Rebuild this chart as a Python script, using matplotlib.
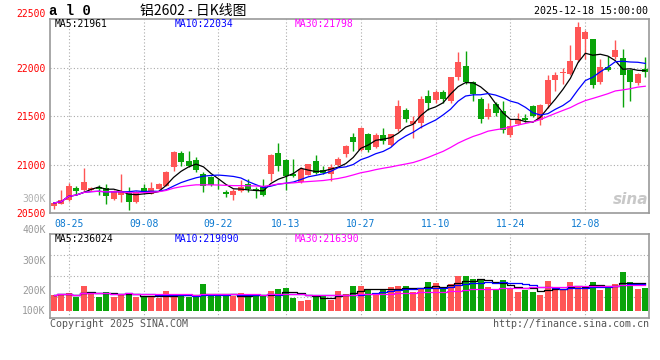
import numpy as np
import pandas as pd
import matplotlib.pyplot as plt

# daily bars of 铝2602, 2025-08-21 .. 2025-12-18
open_ = [20572, 20600, 20633, 20763, 20735, 20735, 20770, 20763, 20650, 20684,
         20712, 20617, 20763, 20701, 20752, 20786, 20980, 21120, 21041, 21048,
         20905, 20878, 20763, 20718, 20691, 20725, 20803, 20752, 20780, 20905,
         21116, 21048, 20905, 20820, 20898, 21035, 20946, 20905, 21000, 21109,
         21286, 21150, 21320, 21184, 21303, 21201, 21364, 21568, 21422, 21426,
         21711, 21664, 21745, 21660, 21908, 22017, 21847, 21681, 21490, 21630,
         21558, 21303, 21422, 21477, 21609, 21460, 21626, 21874, 21949, 21935,
         22078, 22293, 22289, 21847, 22010, 22106, 22102, 21976, 21840, 21983]
high = [20616, 20735, 20810, 20786, 20967, 20775, 20793, 20797, 20740, 20905,
        20770, 20725, 20803, 20820, 20815, 20940, 21143, 21143, 21137, 21082,
        20922, 20888, 20854, 20735, 20752, 20844, 20854, 20770, 20854, 21110,
        21222, 21058, 21058, 20973, 21010, 21099, 20990, 21007, 21082, 21205,
        21330, 21388, 21330, 21330, 21381, 21320, 21670, 21585, 21500, 21705,
        21772, 21772, 21772, 21908, 22163, 22170, 21857, 21694, 21636, 21643,
        21653, 21466, 21534, 21524, 21616, 21630, 21925, 21959, 21993, 22231,
        22469, 22384, 22299, 22085, 22123, 22282, 22190, 21983, 21942, 22106]
low = [20548, 20600, 20630, 20685, 20730, 20725, 20685, 20593, 20640, 20616,
       20531, 20610, 20700, 20695, 20745, 20780, 20940, 20990, 20973, 20922,
       20718, 20786, 20752, 20667, 20633, 20718, 20718, 20660, 20680, 20837,
       20940, 20735, 20871, 20810, 20890, 20905, 20905, 20837, 20990, 21075,
       21143, 21140, 21133, 21170, 21211, 21190, 21350, 21440, 21280, 21381,
       21562, 21640, 21636, 21640, 21874, 21830, 21653, 21432, 21470, 21500,
       21330, 21290, 21410, 21440, 21490, 21405, 21585, 21755, 21830, 21925,
       22061, 22085, 21789, 21830, 21960, 22090, 21596, 21660, 21820, 21908]
close = [20606, 20633, 20786, 20725, 20824, 20763, 20752, 20674, 20729, 20718,
         20617, 20718, 20718, 20763, 20803, 20929, 21133, 21031, 20990, 20950,
         20786, 20793, 20756, 20701, 20725, 20770, 20752, 20725, 20685, 21103,
         20990, 20888, 20882, 20956, 21007, 20915, 20915, 20980, 21058, 21188,
         21235, 21381, 21150, 21303, 21245, 21313, 21609, 21466, 21450, 21681,
         21636, 21745, 21677, 21898, 22061, 21847, 21732, 21473, 21575, 21528,
         21358, 21398, 21473, 21460, 21500, 21619, 21874, 21925, 21959, 22068,
         22418, 22367, 21823, 22010, 21976, 22180, 21925, 21847, 21932, 21953]
# volume in thousands of lots
volume = [135, 144, 150, 116, 212, 161, 116, 161, 116, 144,
          150, 116, 116, 116, 107, 169, 135, 135, 113, 113,
          229, 121, 121, 121, 127, 152, 113, 135, 121, 164,
          186, 195, 107, 85, 93, 135, 121, 93, 169, 144,
          212, 212, 186, 150, 172, 201, 209, 209, 158, 192,
          243, 234, 189, 226, 294, 294, 268, 257, 201, 178,
          263, 195, 161, 178, 155, 135, 254, 178, 178, 246,
          203, 212, 246, 178, 200, 229, 330, 246, 186, 195]

date_ticks = ['08-25', '09-08', '09-22', '10-13', '10-27', '11-10', '11-24', '12-08']
price_ticks = [20500, 21000, 21500, 22000, 22500]
vol_labels = ['400K', '300K', '200K', '100K']

# trading calendar (SHFE closed Oct 1-8)
days = pd.bdate_range('2025-08-21', '2025-12-18')
days = days[(days < '2025-10-01') | (days > '2025-10-08')]
labels = days.strftime('%m-%d')

df = pd.DataFrame({'o': open_, 'h': high, 'l': low, 'c': close, 'v': volume})
x = np.arange(len(df))
up = df.c >= df.o
RED, GREEN = '#ff5555', '#0aa40a'
cols = np.where(up, RED, GREEN)

plt.rcParams['font.family'] = ['DejaVu Sans Mono']

W, H = 660, 360
fig = plt.figure(figsize=(W / 100, H / 100), dpi=100)

def ftxt(px, py, s, **kw):
    fig.text(px / W, 1 - py / H, s, **kw)

ax = fig.add_axes([50 / W, 1 - 213.3 / H, 599 / W, 194.3 / H])
axv = fig.add_axes([50 / W, 1 - 318 / H, 599 / W, 84 / H])

tick_x = [list(labels).index(d) for d in date_ticks]
grid_kw = dict(color='#aaaaaa', lw=0.8, ls=(0, (1, 2)), zorder=0)

# candles
ax.vlines(x, df.l, df.h, color=cols, lw=1, zorder=2)
body = (df.c - df.o).abs().clip(lower=8)
ax.bar(x, body, bottom=df[['o', 'c']].min(axis=1), width=0.8, color=cols, zorder=3)

ma_cols = {5: 'black', 10: '#0000ff', 30: '#ff00ff'}
for n, c in ma_cols.items():
    ax.plot(x, df.c.rolling(n, min_periods=1).mean(), color=c, lw=0.9, zorder=4)

ax.set_xlim(-0.5, 79.5)
ax.set_ylim(20500, 22500)
for t in tick_x:
    ax.axvline(t, **grid_kw)
for p in price_ticks[1:-1]:
    ax.axhline(p, **grid_kw)
ax.set_yticks(price_ticks)
ax.set_yticklabels([str(p) for p in price_ticks], color='red', fontsize=7)
ax.get_yticklabels()[-1].set_va('bottom')
ax.set_xticks(tick_x)
ax.set_xticklabels(date_ticks, color='#0a78d0', fontsize=7)
ax.tick_params(length=0, pad=3)
ax.tick_params(axis='x', pad=4)

# volume
axv.bar(x, df.v, width=0.8, color=cols, zorder=2)
for n, c in ma_cols.items():
    axv.plot(x, df.v.rolling(n, min_periods=1).mean(), color=c, lw=0.9,
             drawstyle='steps-mid', zorder=3)
vlim = (-62, 650)
axv.set_xlim(-0.5, 79.5)
axv.set_ylim(*vlim)
for t in tick_x:
    axv.axvline(t, **grid_kw)
for f in [0.25, 0.5, 0.75]:
    axv.axhline(vlim[0] + f * (vlim[1] - vlim[0]), **grid_kw)
axv.set_xticks([])
axv.set_yticks([])
for lab, f in zip(vol_labels, [1.048, 0.682, 0.321, 0.087]):
    axv.text(-0.007, f, lab, transform=axv.transAxes, ha='right', va='center',
             color='#999999', fontsize=7)

for a in (ax, axv):
    for s in a.spines.values():
        s.set_color('#999999')
        s.set_linewidth(1.2)

# header texts
ftxt(55, 24, 'MA5:21961', color='black', fontsize=7, va='center')
ftxt(175, 24, 'MA10:22034', color='#0000ff', fontsize=7, va='center')
ftxt(295, 24, 'MA30:21798', color='#ff00ff', fontsize=7, va='center')
ftxt(55, 238.5, 'MA5:236024', color='black', fontsize=7, va='center')
ftxt(175, 238.5, 'MA10:219090', color='#0000ff', fontsize=7, va='center')
ftxt(295, 238.5, 'MA30:216390', color='#ff00ff', fontsize=7, va='center')
ftxt(46, 199, '300K', color='#b0b0b0', fontsize=7, va='center', ha='right')

ftxt(49, 11, 'a l 0', fontsize=10, fontweight='bold', va='center',
     family=['Liberation Mono', 'DejaVu Sans Mono'])
ftxt(140, 11, '铝2602 - 日K线图', fontsize=10, va='center',
     family=['Noto Sans CJK SC', 'DejaVu Sans'])
ftxt(648, 11, '2025-12-18 15:00:00', fontsize=7.2, va='center', ha='right')
ftxt(50, 324, 'Copyright 2025 SINA.COM', fontsize=7.2, va='center', color='#555555')
ftxt(649, 324, 'http://finance.sina.com.cn', fontsize=7.2, va='center', ha='right',
     color='#555555')
ftxt(648, 199, 'sina', fontsize=11, va='center', ha='right', color='#c8c8c8',
     style='italic', fontweight='bold', family=['DejaVu Sans'])

fig.savefig('out.png', dpi=100)
